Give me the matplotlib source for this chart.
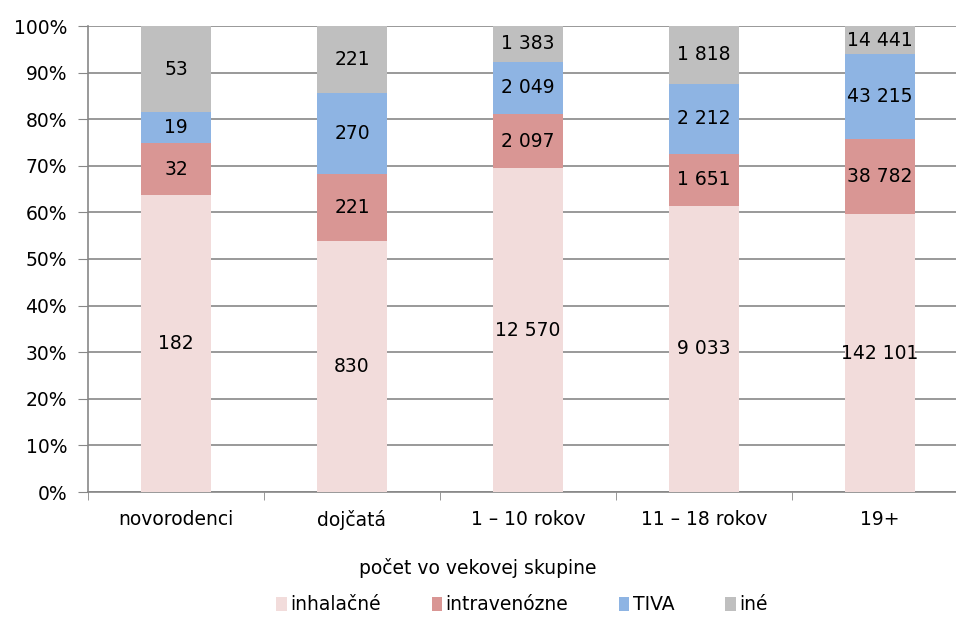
import numpy as np
import matplotlib.pyplot as plt

categories = ['novorodenci', 'dojčatá', '1 – 10 rokov', '11 – 18 rokov', '19+']
series_names = ['inhalačné', 'intravenózne', 'TIVA', 'iné']
inhalacne = [182, 830, 12570, 9033, 142101]
intravenozne = [32, 221, 2097, 1651, 38782]
tiva = [19, 270, 2049, 2212, 43215]
ine = [53, 221, 1383, 1818, 14441]
colors = ['#F2DCDB', '#D99694', '#8EB4E3', '#BFBFBF']

plt.rcParams['font.family'] = ['DejaVu Sans']
fs = 13.5

data = np.array([inhalacne, intravenozne, tiva, ine], dtype=float)
totals = data.sum(axis=0)
shares = data / totals * 100


def fmt(v):
    return f"{int(v):,}".replace(',', ' ')


fig = plt.figure(figsize=(9.56, 6.23), dpi=100)
ax = fig.add_axes([88 / 956, 131 / 623, 880 / 956, 466 / 623])

x = np.arange(len(categories))
bottom = np.zeros(len(categories))
for i in range(len(series_names)):
    ax.bar(x, shares[i], 0.4, bottom=bottom, color=colors[i], label=series_names[i], zorder=3)
    for j in range(len(categories)):
        ax.text(x[j], bottom[j] + shares[i][j] / 2, fmt(data[i][j]),
                ha='center', va='center', fontsize=fs, color='black', zorder=4)
    bottom += shares[i]

ax.set_xlim(-0.5, len(categories) - 0.5)
ax.set_ylim(0, 100)
ax.set_yticks(np.arange(0, 101, 10))
ax.set_yticklabels([f"{v}%" for v in range(0, 101, 10)], fontsize=fs)
ax.yaxis.grid(True, color='#878787', linewidth=1.2, zorder=0)

ax.set_xticks(x)
ax.set_xticklabels(categories, fontsize=fs)
ax.set_xticks(np.arange(-0.5, len(categories), 1), minor=True)
ax.tick_params(axis='x', which='major', length=0, pad=13)
ax.tick_params(axis='x', which='minor', length=6, color='#878787')
ax.tick_params(axis='y', length=7, color='#878787', pad=8)

for s in ['top', 'right']:
    ax.spines[s].set_visible(False)
ax.spines['left'].set_color('#878787')
ax.spines['bottom'].set_color('#878787')
ax.spines['left'].set_linewidth(1.2)
ax.spines['bottom'].set_linewidth(1.2)

fig.text(478 / 956, 1 - 568 / 623, 'počet vo vekovej skupine', ha='center', va='center', fontsize=fs)

handles, labels = ax.get_legend_handles_labels()
fig.legend(handles, labels, loc='center', bbox_to_anchor=(522 / 956, 1 - 605 / 623), ncol=4,
           frameon=False, fontsize=fs, handlelength=0.55, handleheight=0.75,
           handletextpad=0.2, columnspacing=2.7)

fig.savefig('out.png', dpi=100)
